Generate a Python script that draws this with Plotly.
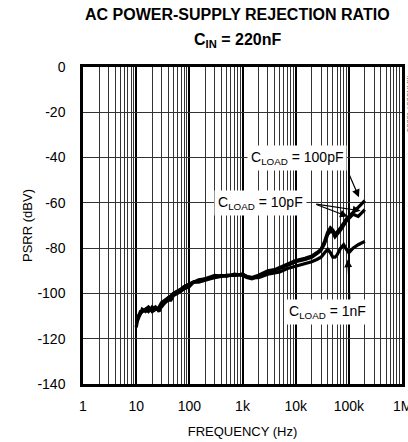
import math
import plotly.graph_objects as go

freq = [10, 11, 12, 13, 15, 17, 20, 23, 27, 30, 35, 40, 45, 50, 60, 70, 80, 100, 120, 150,
        200, 250, 300, 400, 500, 700, 1000, 1200, 1500, 2000, 2500, 3000, 4000, 5000, 7000,
        10000, 15000, 20000, 25000, 30000, 35000, 40000, 45000, 50000, 55000, 60000, 70000,
        80000, 90000, 100000, 120000, 150000, 200000]

psrr_1nF = [-115, -110, -109, -108, -107, -108, -106, -107, -107, -106, -104, -103, -103, -101,
            -100, -99, -98, -97, -95, -95, -94, -93.5, -93, -92.5, -92, -92, -91.5, -92.5, -93,
            -93, -92, -91.5, -91, -90.5, -89, -88, -87, -86, -85, -84, -82, -80.5, -82, -84,
            -84, -83, -80, -78.5, -80.5, -82, -80, -78.5, -77]

psrr_10pF = [-110, -111, -109, -107, -108, -107, -107, -106, -108, -105, -104, -102, -102, -100,
             -99, -98.5, -97, -96, -95, -94, -93.5, -93, -92.5, -92, -92.5, -91.5, -92, -93,
             -93.5, -92.5, -91.5, -90.5, -90, -89, -87.5, -86, -85, -84, -82.5, -81, -78, -74,
             -72.5, -73, -75, -74, -72, -70, -68, -67, -65, -66, -63]

psrr_100pF = [-111, -110, -108, -108, -107, -106, -108, -107, -106, -104, -103, -102, -101, -100,
              -99, -98, -97, -96, -95, -94.5, -93.5, -92.5, -92, -92.5, -92, -92, -91.5, -92.5,
              -93, -92, -91, -90, -89.5, -88.5, -87, -85.5, -84.5, -83.5, -82, -80.5, -77, -73,
              -71, -72, -74, -73, -71, -69, -67, -66, -64, -62, -59]

x_ticks = [1, 10, 100, 1000, 10000, 100000]
x_labels = ["1", "10", "100", "1k", "10k", "100k"]
x_last_tick = 1000000
x_last_label = "1M"
y_ticks = [0, -20, -40, -60, -80, -100, -120, -140]
y_labels = ["0", "-20", "-40", "-60", "-80", "-100", "-120", "-140"]

minor_vals = [m * 10 ** d for d in range(0, 6) for m in range(2, 10)]

fig = go.Figure()
for ys in (psrr_1nF, psrr_10pF, psrr_100pF):
    fig.add_trace(go.Scatter(x=freq, y=ys, mode="lines",
                             line=dict(color="black", width=3.2), showlegend=False))

font = "Liberation Sans, Arial, sans-serif"

fig.update_layout(
    width=408, height=442,
    margin=dict(l=83, r=6, t=67, b=58, autoexpand=False),
    paper_bgcolor="white", plot_bgcolor="white",
    font=dict(family=font, size=14, color="black"),
)

fig.update_xaxes(
    type="log", range=[0, 6], automargin=False,
    tickvals=x_ticks, ticktext=x_labels, ticks="", tickfont=dict(size=14),
    showgrid=True, gridcolor="black", gridwidth=1.5,
    minor=dict(tickvals=minor_vals, showgrid=True, gridcolor="#333", gridwidth=1, ticks=""),
    showline=True, linecolor="black", linewidth=2.5, mirror=True,
    title=dict(text="FREQUENCY (Hz)", font=dict(size=13), standoff=15),
    zeroline=False, ticklabelstandoff=7,
)
fig.update_yaxes(
    range=[-140, 0], automargin=False,
    tickvals=y_ticks, ticktext=y_labels, ticks="", tickfont=dict(size=14),
    showgrid=True, gridcolor="#333", gridwidth=1,
    showline=True, linecolor="black", linewidth=2.5, mirror=True,
    title=dict(text="PSRR (dBV)", font=dict(size=13), standoff=2),
    zeroline=False, ticklabelstandoff=12,
)

# last x tick label (sits at the right edge of the page)
fig.add_annotation(x=math.log10(x_last_tick), y=0, xref="x", yref="paper", text=x_last_label,
                   showarrow=False, yanchor="middle", yshift=-22, font=dict(size=14))

# title lines
fig.add_annotation(x=0.483, y=1.165, xref="paper", yref="paper", showarrow=False,
                   text="<b>AC POWER-SUPPLY REJECTION RATIO</b>", yanchor="middle",
                   font=dict(size=16, family=font), borderpad=0)
fig.add_annotation(x=0.483, y=1.085, xref="paper", yref="paper", showarrow=False,
                   text="<b>C<sub>IN</sub> = 220nF</b>", yanchor="middle",
                   font=dict(size=16, family=font))

# arrows
arrows = [
    (5.19, -57.5, 4.98, -46),    # 100pF
    (4.98, -66, 4.36, -60.5),    # 10pF
    (5.22, -63.5, 4.36, -60.5),  # 10pF second
    (4.98, -85, 5.02, -103),     # 1nF
]
for x, y, ax, ay in arrows:
    fig.add_annotation(x=x, y=y, ax=ax, ay=ay, xref="x", yref="y", axref="x", ayref="y",
                       text="", showarrow=True, arrowhead=2, arrowsize=1.3, arrowwidth=1.2,
                       arrowcolor="black")

labels = [
    ("C<sub>LOAD</sub> = 100pF", 4.025, -40),
    ("C<sub>LOAD</sub> = 10pF", 3.33, -60),
    ("C<sub>LOAD</sub> = 1nF", 4.59, -108),
]
for t, x, y in labels:
    fig.add_annotation(x=x, y=y, xref="x", yref="y", text=t, showarrow=False,
                       bgcolor="white", font=dict(size=14, family=font), borderpad=3)

fig.add_annotation(x=1.0, y=0.98, xref="paper", yref="paper", text="MAX9907 toc06",
                   textangle=90, showarrow=False, xanchor="left", yanchor="top", xshift=1,
                   font=dict(size=8, color="#555"))

fig.write_html("out.html", config={"displayModeBar": False},
               post_script="document.body.style.margin='0';document.body.style.overflow='hidden';")
